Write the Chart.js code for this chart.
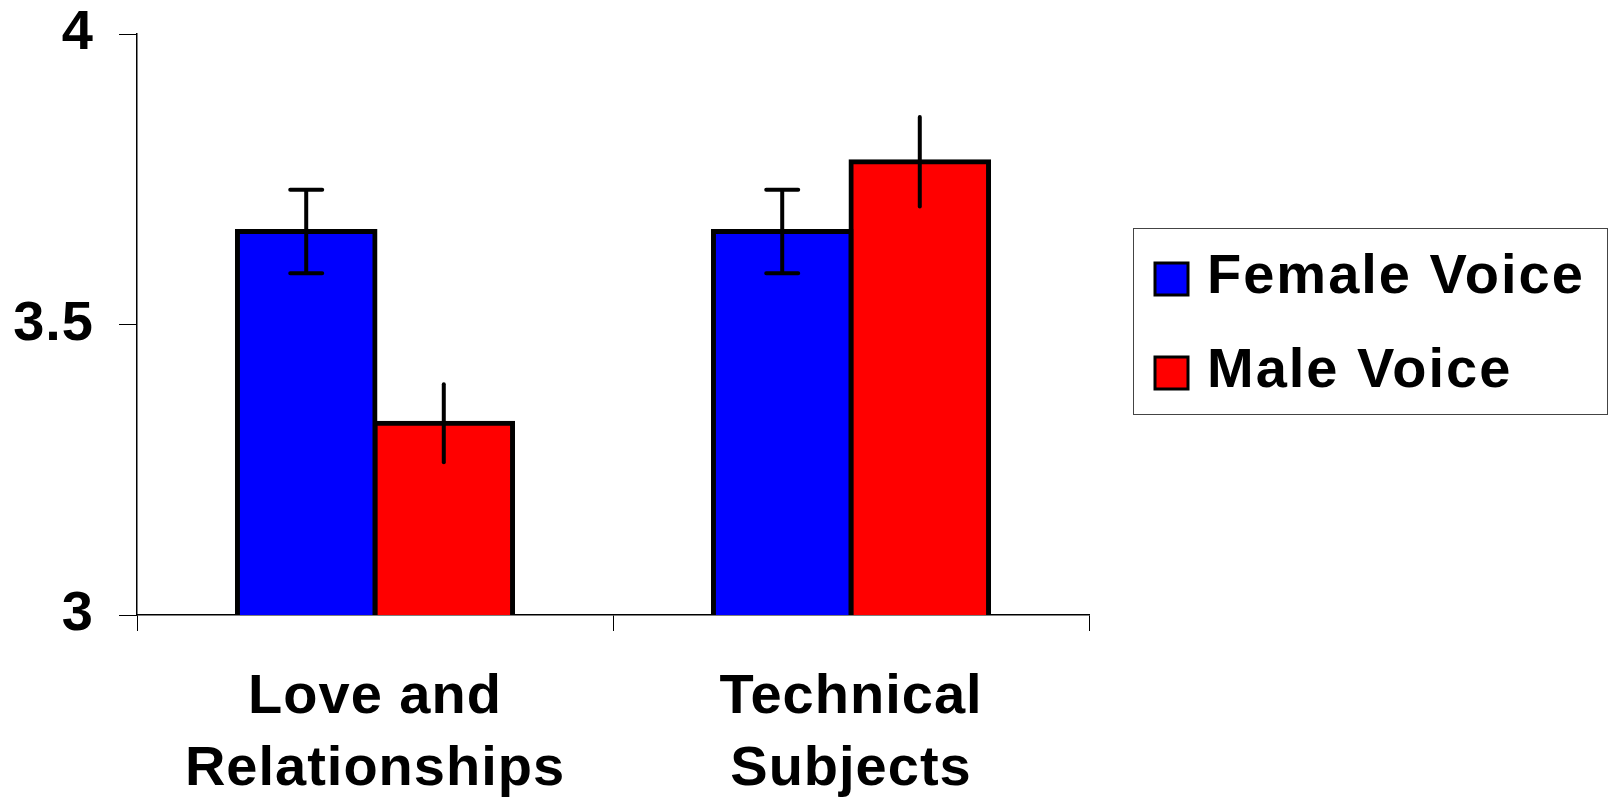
<!DOCTYPE html>
<html>
<head>
<meta charset="utf-8">
<script src="https://cdn.jsdelivr.net/npm/chart.js@4.4.0/dist/chart.umd.min.js"></script>
<style>
html, body { margin: 0; padding: 0; background: #fff; }
</style>
</head>
<body>
<canvas id="chart" width="1612" height="800"></canvas>
<script>
// values
var categories = [['Love and', 'Relationships'], ['Technical', 'Subjects']];
var seriesNames = ['Female Voice', 'Male Voice'];
var femaleValues = [3.66, 3.66];
var maleValues = [3.33, 3.78];
var femaleErrors = [0.072, 0.072];
var maleErrors = [0.067, 0.077];
var yTicks = [3, 3.5, 4];

var FONT = '"Liberation Sans", Arial, sans-serif';
Chart.defaults.font.family = FONT;
Chart.defaults.font.weight = 'bold';
Chart.defaults.font.size = 56;
Chart.defaults.color = '#000';

// a bit of tracking, like the original
var spacing = {
    id: 'spacing',
    beforeDraw: function(chart) {
        chart.ctx.letterSpacing = '1px';
    }
};

// error bars, caps only on the female series
var errorBars = {
    id: 'errorBars',
    afterDatasetsDraw: function(chart) {
        var ctx = chart.ctx, y = chart.scales.y;
        chart.data.datasets.forEach(function(ds, i) {
            var meta = chart.getDatasetMeta(i);
            meta.data.forEach(function(bar, j) {
                var v = ds.data[j], e = ds.errors[j];
                var top = y.getPixelForValue(v + e), bot = y.getPixelForValue(v - e);
                ctx.save();
                ctx.strokeStyle = '#000';
                ctx.lineWidth = 4;
                ctx.lineCap = 'round';
                ctx.beginPath();
                ctx.moveTo(bar.x, top);
                ctx.lineTo(bar.x, bot);
                if (ds.caps) {
                    ctx.moveTo(bar.x - 16, top);
                    ctx.lineTo(bar.x + 16, top);
                    ctx.moveTo(bar.x - 16, bot);
                    ctx.lineTo(bar.x + 16, bot);
                }
                ctx.stroke();
                ctx.restore();
            });
        });
    }
};

// boxed legend on the right
var legendBox = {
    id: 'legendBox',
    afterDraw: function(chart) {
        var ctx = chart.ctx, a = chart.chartArea;
        var left = a.right + 44, top = 228;
        ctx.save();
        ctx.strokeStyle = '#444';
        ctx.lineWidth = 1;
        ctx.strokeRect(left + 0.5, top + 0.5, 474, 186);
        chart.data.datasets.forEach(function(ds, i) {
            var cy = top + 51 + i * 94;
            ctx.fillStyle = ds.backgroundColor;
            ctx.fillRect(left + 22, cy - 16, 33, 32);
            ctx.strokeStyle = '#000';
            ctx.lineWidth = 3;
            ctx.strokeRect(left + 22, cy - 16, 33, 32);
            ctx.fillStyle = '#000';
            ctx.font = 'bold 56px ' + FONT;
            ctx.letterSpacing = '2px';
            ctx.textAlign = 'left';
            ctx.textBaseline = 'alphabetic';
            ctx.fillText(ds.label, left + 74, top + 65 + i * 94);
        });
        ctx.restore();
    }
};

var ctx = document.getElementById('chart').getContext('2d');
var chart = new Chart(ctx, {
    type: 'bar',
    data: {
        labels: categories,
        datasets: [{
            label: seriesNames[0],
            data: femaleValues,
            errors: femaleErrors,
            caps: true,
            backgroundColor: '#0000ff',
            borderColor: '#000',
            borderWidth: 5,
            inflateAmount: 2.5,
            borderSkipped: false
        }, {
            label: seriesNames[1],
            data: maleValues,
            errors: maleErrors,
            caps: false,
            backgroundColor: '#ff0000',
            borderColor: '#000',
            borderWidth: 5,
            inflateAmount: 2.5,
            borderSkipped: false
        }]
    },
    options: {
        responsive: false,
        animation: false,
        events: [],
        layout: { padding: { top: 34, right: 523, left: 0, bottom: 0 } },
        categoryPercentage: 0.578,
        barPercentage: 1.0,
        plugins: {
            legend: { display: false },
            tooltip: { enabled: false }
        },
        scales: {
            x: {
                grid: { drawOnChartArea: false, color: '#000', lineWidth: 1, tickLength: 16, offset: true },
                border: { display: true, color: '#000', width: 1.5 },
                ticks: { padding: 30, font: { size: 56, weight: 'bold', lineHeight: 1.29 }, maxRotation: 0, autoSkip: false },
                afterFit: function(s) { s.height = 185; }
            },
            y: {
                min: 3,
                max: 4,
                afterBuildTicks: function(s) {
                    s.ticks = yTicks.map(function(v) { return { value: v }; });
                },
                grid: { drawOnChartArea: false, color: '#000', lineWidth: 1, tickLength: 18 },
                border: { display: true, color: '#000', width: 1.5 },
                ticks: {
                    padding: 25,
                    font: { size: 56, weight: 'bold' },
                    callback: function(v) { return String(v); }
                },
                afterFit: function(s) {
                    s.width = 137;
                    s.paddingTop = 0;
                    s.paddingBottom = 0;
                }
            }
        }
    },
    plugins: [spacing, errorBars, legendBox]
});
</script>
</body>
</html>
